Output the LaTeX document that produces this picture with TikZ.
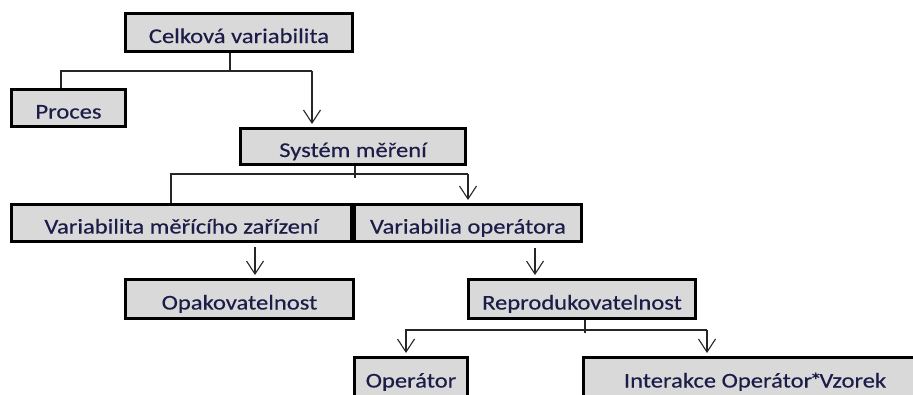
\documentclass[tikz,border=0pt]{standalone}
\usepackage{fontspec}
\setmainfont{Carlito}[FakeStretch=1.17,FakeBold=0.35]
\usetikzlibrary{arrows.meta,calc}
\definecolor{boxfill}{HTML}{D9D9D9}
\definecolor{txt}{HTML}{1C1C48}
\tikzset{
  box/.style={draw=black, line width=3pt, fill=boxfill, inner sep=0pt,
    text=txt, text height=21pt, text depth=0pt,
    font=\fontsize{21pt}{25pt}\selectfont},
  conn/.style={draw=black!85, line width=1.1pt},
  arr/.style={-{Straight Barb[length=13pt,width=17pt]}}
}
\begin{document}
\begin{tikzpicture}[x=1pt,y=-1pt]
\useasboundingbox (0,0) rectangle (913,394);
\fill[white] (0,0) rectangle (913,394);
\clip (0,0) rectangle (913,394);
% boxes
\node[box, minimum width=227pt, minimum height=38pt] (cel) at (239,32.5) {Celková variabilita};
\node[box, minimum width=114pt, minimum height=37pt] (proc) at (68.5,108) {Proces};
\node[box, minimum width=225pt, minimum height=36pt] (sys) at (353,146.5) {Systém měření};
\node[box, minimum width=340pt, minimum height=37pt] (varm) at (181.5,223) {Variabilita měřícího zařízení};
\node[box, minimum width=227pt, minimum height=37pt] (varo) at (468,223) {Variabilia operátora};
\node[box, minimum width=228pt, minimum height=39pt] (opak) at (239.5,299) {Opakovatelnost};
\node[box, minimum width=227pt, minimum height=39pt] (repro) at (582,299) {Reprodukovatelnost};
\node[box, minimum width=113pt, minimum height=39pt] (oper) at (411,377) {Operátor};
\node[box, minimum width=343pt, minimum height=39pt] (inter) at (755,377) {Interakce Operátor\kern-2.5pt*\kern-2.5pt Vzorek};
% junction coordinates
\coordinate (c0) at (230,71);
\coordinate (c1) at (61,71);
\coordinate (c2) at (312,71);
\coordinate (d0) at (355,178);
\coordinate (d1) at (171,174);
\coordinate (d2) at (468,174);
\coordinate (e1) at (255,247);
\coordinate (e2) at (535,248);
\coordinate (f0) at (585,333);
\coordinate (f1) at (406,330);
\coordinate (f2) at (707,330);
% connectors
\draw[conn] (cel.south -| c0) -- (c0);
\draw[conn] (proc.north -| c1) -- (c1) -- (c2);
\draw[conn,arr] (c2) -- ($(sys.north -| c2)+(0,-3)$);
\draw[conn] (sys.south -| d0) -- (d0);
\draw[conn] (varm.north -| d1) -- (d1) -- (d2);
\draw[conn,arr] (d2) -- ($(varo.north -| d2)+(0,-3)$);
\draw[conn,arr] (e1) -- ($(opak.north -| e1)+(0,-3)$);
\draw[conn,arr] (e2) -- ($(repro.north -| e2)+(0,-3)$);
\draw[conn] (repro.south -| f0) -- (f0);
\draw[conn,arr] (f2) -- (f1) -- ($(oper.north -| f1)+(0,-3)$);
\draw[conn,arr] (f2) -- ($(inter.north -| f2)+(0,-3)$);
\end{tikzpicture}
\end{document}
